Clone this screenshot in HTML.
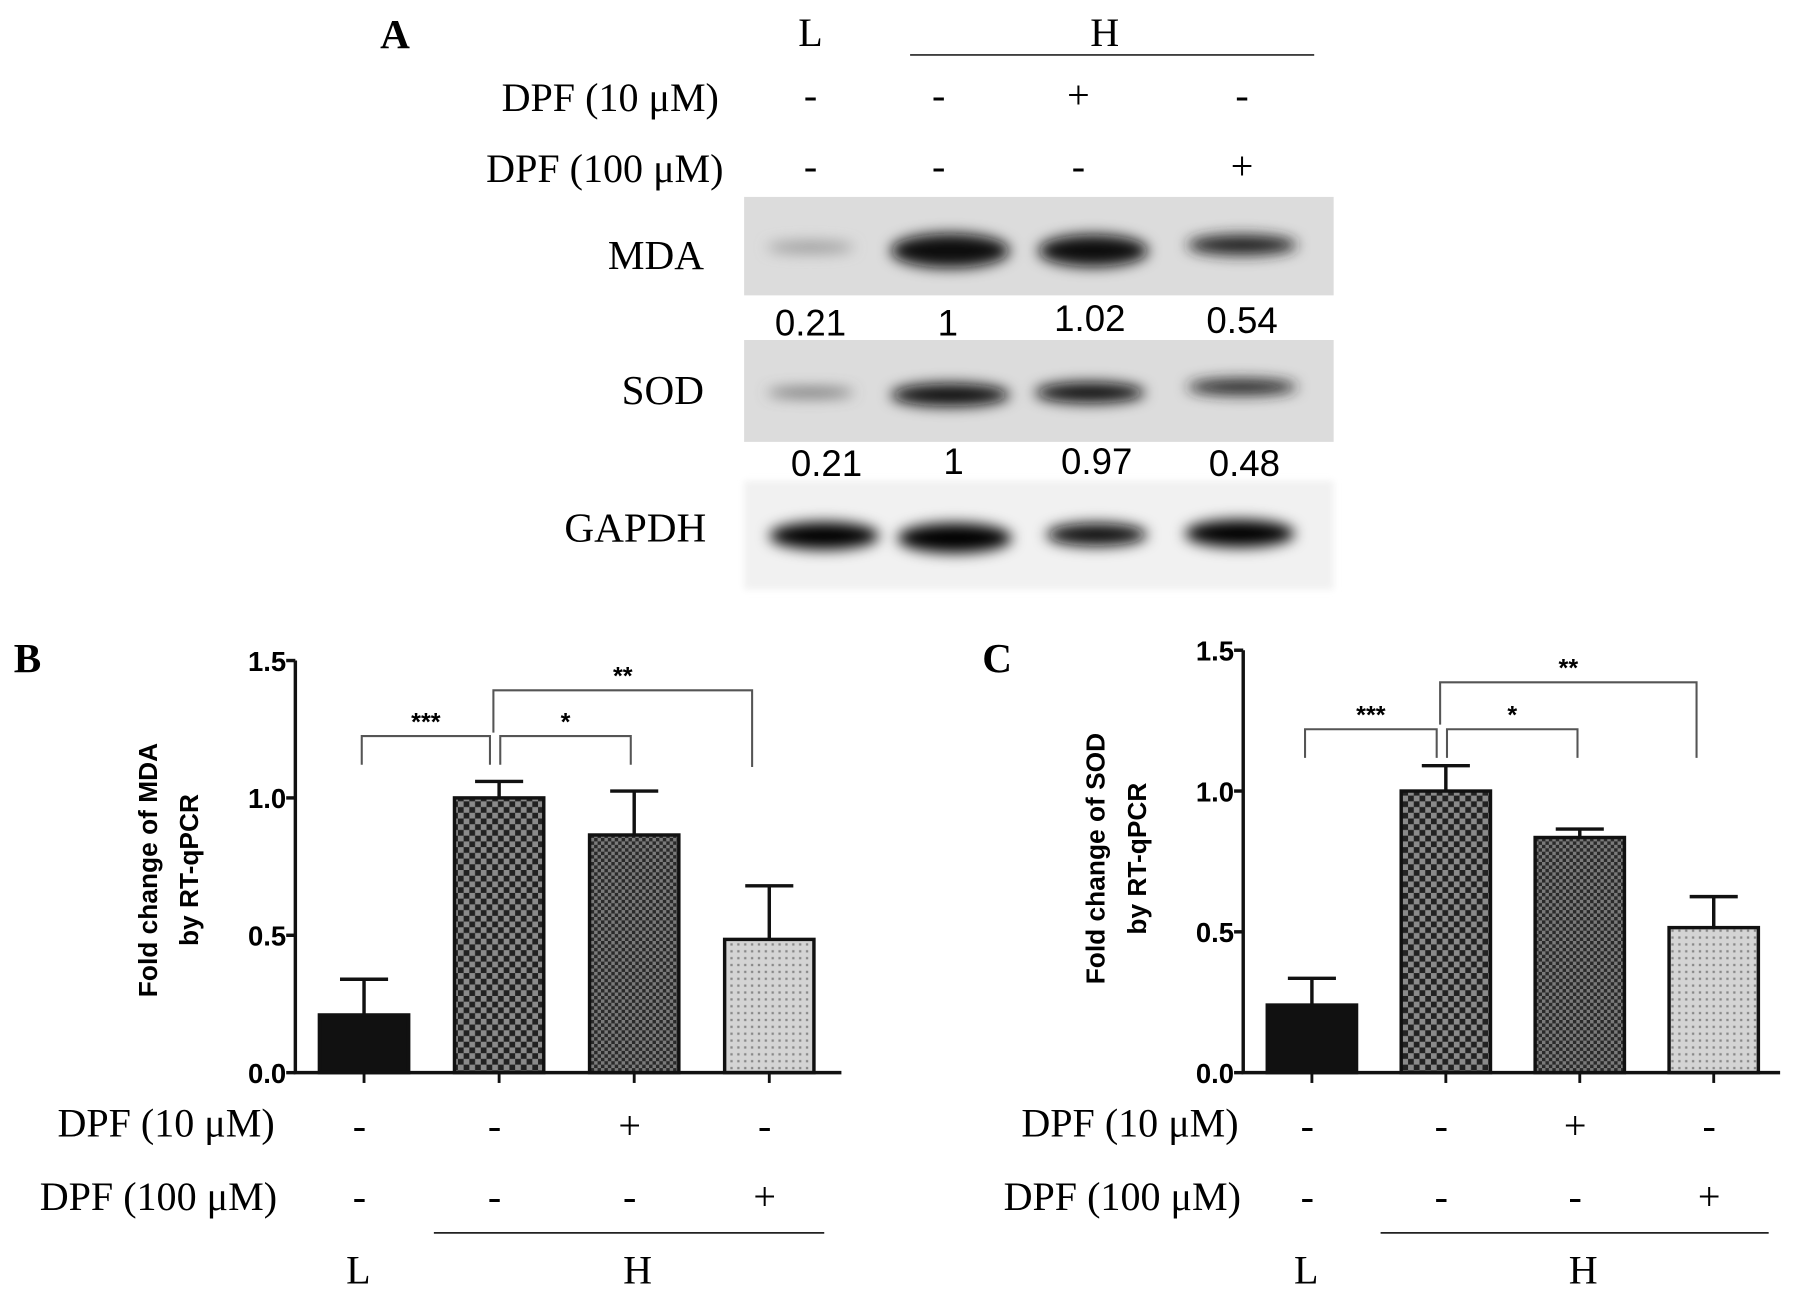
<!DOCTYPE html>
<html><head><meta charset="utf-8"><style>
html,body{margin:0;padding:0;background:#fff;}
svg{display:block;}
.serif{font-family:"Liberation Serif",serif;}
.sans{font-family:"Liberation Sans",sans-serif;}
</style></head><body>
<svg id="fig" width="1795" height="1300" viewBox="0 0 1568 1135.6" preserveAspectRatio="none" xmlns="http://www.w3.org/2000/svg">
<defs>
<filter id="blur" x="-30%" y="-80%" width="160%" height="260%"><feGaussianBlur stdDeviation="6"/></filter>
<filter id="blur2" x="-10%" y="-10%" width="120%" height="120%"><feGaussianBlur stdDeviation="3"/></filter>
<pattern id="chk1" width="10" height="10" patternUnits="userSpaceOnUse"><rect width="10" height="10" fill="#222"/><rect width="5" height="5" fill="#8a8a8a"/><rect x="5" y="5" width="5" height="5" fill="#8a8a8a"/></pattern>
<pattern id="chk2" width="6" height="6" patternUnits="userSpaceOnUse"><rect width="6" height="6" fill="#2a2a2a"/><rect width="3" height="3" fill="#7a7a7a"/><rect x="3" y="3" width="3" height="3" fill="#7a7a7a"/></pattern>
<pattern id="dots" width="6" height="6" patternUnits="userSpaceOnUse"><rect width="6" height="6" fill="#d4d4d4"/><rect x="2" y="2" width="2" height="2" fill="#888"/></pattern>
</defs>

<g>
<text class="serif" x="345" y="42" font-size="36" font-weight="bold" text-anchor="middle">A</text>
<text class="serif" x="708" y="40" font-size="35" text-anchor="middle">L</text>
<text class="serif" x="965" y="40" font-size="35" text-anchor="middle">H</text>
<line x1="795" y1="48" x2="1148" y2="48" stroke="#222" stroke-width="1.5"/>
<text class="serif" x="628" y="97" font-size="35" text-anchor="end">DPF (10 μM)</text>
<text class="serif" x="632" y="159" font-size="35" text-anchor="end">DPF (100 μM)</text>
<g class="serif" font-size="35" text-anchor="middle">
<text x="708" y="95">-</text><text x="820" y="95">-</text><text x="942" y="95">+</text><text x="1085" y="95">-</text>
<text x="708" y="157">-</text><text x="820" y="157">-</text><text x="942" y="157">-</text><text x="1085" y="157">+</text>
</g>
<rect x="650" y="172" width="515" height="86" fill="#dcdcdc"/>
<g filter="url(#blur)">
<ellipse cx="708" cy="216" rx="38" ry="5" fill="#999"/>
<ellipse cx="830" cy="219" rx="52" ry="15" fill="#0a0a0a"/>
<ellipse cx="955" cy="219" rx="48" ry="14" fill="#111"/>
<ellipse cx="1085" cy="214" rx="48" ry="9" fill="#222"/>
</g>
<rect x="650" y="297" width="515" height="89" fill="#dcdcdc"/>
<g filter="url(#blur)">
<ellipse cx="708" cy="343" rx="38" ry="4" fill="#666"/>
<ellipse cx="830" cy="345" rx="52" ry="10" fill="#0a0a0a"/>
<ellipse cx="952" cy="343" rx="48" ry="9" fill="#111"/>
<ellipse cx="1085" cy="338" rx="48" ry="7" fill="#222"/>
</g>
<rect x="650" y="420" width="515" height="95" fill="#f1f1f1" filter="url(#blur2)"/>
<g filter="url(#blur)">
<ellipse cx="720" cy="468" rx="48" ry="12" fill="#000"/>
<ellipse cx="834" cy="470" rx="50" ry="13" fill="#000"/>
<ellipse cx="958" cy="467" rx="44" ry="10" fill="#080808"/>
<ellipse cx="1083" cy="466" rx="48" ry="12" fill="#000"/>
</g>
<text class="serif" x="615" y="235" font-size="36" text-anchor="end">MDA</text>
<text class="serif" x="615" y="353" font-size="36" text-anchor="end">SOD</text>
<text class="serif" x="617" y="473" font-size="36" text-anchor="end">GAPDH</text>
<g class="sans" font-size="32" text-anchor="middle">
<text x="708" y="293">0.21</text><text x="828" y="293">1</text><text x="952" y="289">1.02</text><text x="1085" y="291">0.54</text>
</g>
<g class="sans" font-size="32" text-anchor="middle">
<text x="722" y="416">0.21</text><text x="833" y="414">1</text><text x="958" y="414">0.97</text><text x="1087" y="416">0.48</text>
</g>
</g>
<g id="charts"></g>
</svg>
<script>
const categories = ["L", "H", "H+DPF10", "H+DPF100"];
const mdaValues = [0.21, 1.0, 0.865, 0.485];
const mdaErrors = [0.13, 0.06, 0.16, 0.195];
const sodValues = [0.24, 1.0, 0.835, 0.515];
const sodErrors = [0.095, 0.09, 0.03, 0.11];
const yTicks = [0.0, 0.5, 1.0, 1.5];
const yTickLabels = ["0.0", "0.5", "1.0", "1.5"];
const dpf10Signs = ["-", "-", "+", "-"];
const dpf100Signs = ["-", "-", "-", "+"];

const NS = "http://www.w3.org/2000/svg";
const root = document.getElementById("charts");
function mk(tag, attrs, parent, text) {
  const e = document.createElementNS(NS, tag);
  for (const k in attrs) e.setAttribute(k, attrs[k]);
  if (text !== undefined) e.textContent = text;
  parent.appendChild(e);
  return e;
}
const fills = ["#111", "url(#chk1)", "url(#chk2)", "url(#dots)"];

function drawChart(cfg, values, errors) {
  const g = mk("g", {}, root);
  
  
  const y = v => cfg.y0 - (v / 1.5) * (cfg.y0 - cfg.y15);
  const x = i => cfg.x0 + i * cfg.step;
  const pl = mk("text", {x: cfg.labelX, y: 587, "font-size": 36, "font-weight": "bold", class: "serif"}, g, cfg.panel);
  
  
  values.forEach((v, i) => {
    const b = mk("rect", {x: x(i) - 39, y: y(v), width: 78, height: y(0) - y(v), fill: fills[i], stroke: "#111", "stroke-width": 3}, g);
    
    
    const top = y(v + errors[i]);
    const eb = mk("path", {d: `M${x(i)},${y(v)} V${top} M${x(i)-21},${top} H${x(i)+21}`, stroke: "#111", "stroke-width": 3, fill: "none"}, g);
    
    
    const tk = mk("line", {x1: x(i), y1: y(0), x2: x(i), y2: y(0) + 9, stroke: "#111", "stroke-width": 2.5}, g);
    
    
    const s1 = mk("text", {x: x(i) - 4, y: 995, "font-size": 35, "text-anchor": "middle", class: "serif"}, g, dpf10Signs[i]);
    
    
    const s2 = mk("text", {x: x(i) - 4, y: 1057, "font-size": 35, "text-anchor": "middle", class: "serif"}, g, dpf100Signs[i]);
    
    
  });
  const ax = mk("path", {d: `M${cfg.x0 - 60},${y(1.5)} V${y(0)} H${cfg.xEnd}`, stroke: "#111", "stroke-width": 3, fill: "none"}, g);
  
  
  yTicks.forEach((t, i) => {
    const l = mk("line", {x1: cfg.x0 - 68, y1: y(t), x2: cfg.x0 - 60, y2: y(t), stroke: "#111", "stroke-width": 3}, g);
    
    
    const tl = mk("text", {x: cfg.x0 - 68, y: y(t) + 9, "font-size": 24, "font-weight": "bold", "text-anchor": "end", class: "sans"}, g, yTickLabels[i]);
    
    
  });
  const yt = mk("text", {transform: `translate(${cfg.titleX},${cfg.titleY}) rotate(-90)`, "font-size": 23, "font-weight": "bold", "text-anchor": "middle", class: "sans"}, g);
  
  
  mk("tspan", {x: 0, y: 0}, yt, cfg.title1);
  mk("tspan", {x: 0, y: 36}, yt, "by  RT-qPCR");
  cfg.brackets.forEach(br => {
    const xa = x(br[0]) + br[3], xb = x(br[1]) + br[4];
    const p = mk("path", {d: `M${xa},${br[5]} V${br[2]} H${xb} V${br[6]}`, stroke: "#555", "stroke-width": 1.8, fill: "none"}, g);
    
    
    const st = mk("text", {x: (xa + xb) / 2, y: br[2] - 5, "font-size": 22, "font-weight": "bold", "text-anchor": "middle", class: "sans"}, g, br[7]);
    
    
  });
  const r1 = mk("text", {x: cfg.rowEnd, y: 993, "font-size": 35, "text-anchor": "end", class: "serif"}, g, "DPF (10 μM)");
  
  
  const r2 = mk("text", {x: cfg.rowEnd + 2, y: 1057, "font-size": 35, "text-anchor": "end", class: "serif"}, g, "DPF (100 μM)");
  
  
  const hl = mk("line", {x1: x(1) - 57, y1: 1077, x2: x(3) + 48, y2: 1077, stroke: "#222", "stroke-width": 1.5}, g);
  
  
  const lt = mk("text", {x: x(0) - 5, y: 1121, "font-size": 35, "text-anchor": "middle", class: "serif"}, g, "L");
  
  
  const ht = mk("text", {x: (x(1) + x(3)) / 2 + 3, y: 1121, "font-size": 35, "text-anchor": "middle", class: "serif"}, g, "H");
  
  
}

drawChart({name: "chart-mda", panel: "B", labelX: 12, x0: 318, step: 118, xEnd: 735, y0: 937, y15: 577,
  titleX: 137, titleY: 760, title1: "Fold change of MDA", rowEnd: 240,
  brackets: [[0, 1, 643, -2, -8, 668, 668, "***"], [1, 2, 643, 1, -3, 668, 668, "*"], [1, 3, 603, -5, -15, 640, 670, "**"]]}, mdaValues, mdaErrors);
drawChart({name: "chart-sod", panel: "C", labelX: 858, x0: 1146, step: 117, xEnd: 1555, y0: 937, y15: 568,
  titleX: 965, titleY: 750, title1: "Fold change of SOD", rowEnd: 1082,
  brackets: [[0, 1, 637, -6, -8, 662, 662, "***"], [1, 2, 637, 1, -2, 662, 662, "*"], [1, 3, 596, -5, -15, 633, 662, "**"]]}, sodValues, sodErrors);
</script>
</body></html>
